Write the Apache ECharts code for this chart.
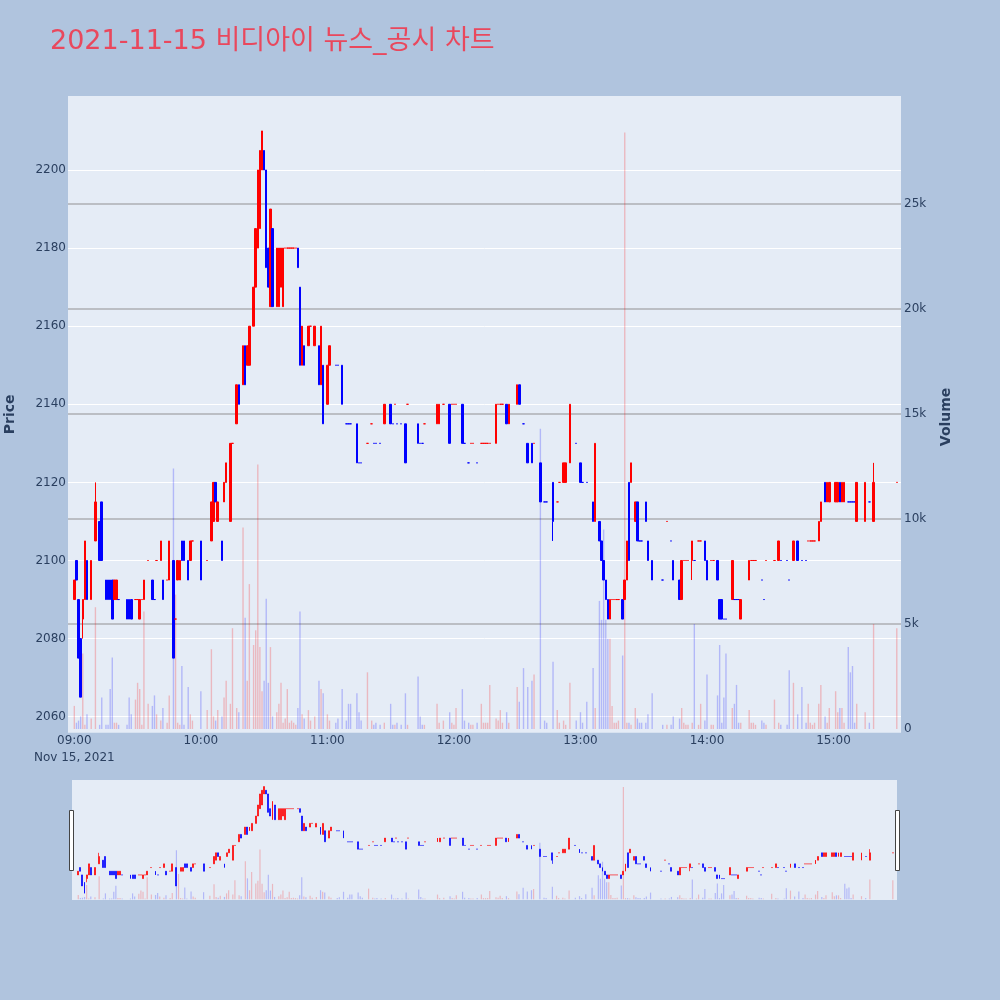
<!DOCTYPE html>
<html>
<head>
<meta charset="utf-8">
<script src="https://cdn.jsdelivr.net/npm/echarts@6/dist/echarts.min.js"></script>
<style>
  html, body { margin: 0; padding: 0; background: #B0C4DE; }
  #chart { width: 1000px; height: 1000px; }
</style>
</head>
<body>
<div id="chart"></div>
<script>
'use strict';

// minutes after 09:00 for every traded minute
const minutes = [
  0,1,2,3,4,5,6,8,10,12, 13,15,16,17,18,19,20,21,25,26, 27,29,30,31,32,33,35,37,38,39, 41,42,44,45,47,48,49,50,51,52, 54,55,56,
  60,63,65,66,67,68,70,71,72,74, 75,77,78,80,81,82,83,85,86,87, 88,89,90,91,92,93,94,96,97,98, 99,100,101,102,103,104,105,106,107,108, 109,111,112,114,116,117,118,
  120,121,124,125,127,129,130,131,134,135, 136,139,141,142,143,145,147,150,151,152, 153,155,157,158,163,164,165,166,172,173, 175,178,179,
  180,181,184,185,187,188,189,191,193,194, 195,196,197,200,201,202,203,205,206,210, 211,213,215,217,218,221,223,224,227,229, 230,232,233,235,238,
  240,241,243,246,247,249,250,251,252,253, 254,255,256,257,258,260,261,262,263,264, 266,267,268,269,271,272,274,279,281,283, 284,287,288,289,290,291,293,294,296,297, 299,
  300,302,303,305,306,307,308,309,312,313, 314,315,316,320,321,322,323,326,327,328, 332,334,335,338,339,341,343,345,347,348, 349,350,351,353,354,356,357,358,
  361,362,363,364,365,367,368,369,370,371, 375,377,379,390
];

const opens = [
  2090,2100,2090,2080,2085,2090,2100,2090,2105,2110, 2115,2095,2095,2095,2095,2090,2090,2090,2090,2090, 2090,2090,2090,2085,2090,2090,2100,2095,2090,2100, 2100,2095,2095,2095,2100,2085,2095,2095,2105,2105, 2100,2100,2105,
  2105,2100,2105,2110,2120,2110,2105,2115,2120,2110, 2130,2135,2145,2145,2155,2150,2150,2160,2170,2180, 2185,2200,2205,2200,2180,2165,2185,2165,2165,2170, 2165,2180,2180,2180,2180,2180,2180,2180,2170,2150, 2155,2155,2160,2155,2155,2145,2150,
  2140,2150,2150,2150,2150,2135,2135,2135,2135,2125, 2125,2130,2135,2130,2130,2130,2135,2140,2135,2140, 2135,2135,2135,2140,2135,2130,2130,2135,2135,2135, 2140,2140,2140,
  2140,2140,2140,2130,2125,2130,2130,2125,2130,2130, 2130,2130,2130,2130,2140,2140,2140,2140,2135,2140, 2145,2135,2130,2130,2130,2125,2115,2115,2120,2115, 2120,2120,2120,2125,2130,
  2125,2120,2120,2115,2110,2110,2105,2100,2095,2090, 2085,2090,2090,2090,2090,2090,2090,2095,2120,2120, 2110,2115,2105,2105,2115,2105,2100,2095,2110,2105, 2100,2095,2090,2100,2100,2100,2100,2100,2105,2105, 2105,
  2100,2100,2100,2100,2090,2090,2085,2085,2090,2090, 2090,2090,2085,2095,2100,2100,2100,2095,2090,2100, 2100,2100,2100,2100,2095,2100,2105,2100,2100,2105, 2105,2105,2105,2105,2110,2120,2115,2115,
  2115,2115,2120,2115,2115,2115,2115,2115,2115,2110, 2110,2115,2110,2120
];

const closes = [
  2095,2095,2075,2065,2090,2105,2090,2100,2115,2100, 2100,2090,2090,2090,2085,2095,2095,2090,2085,2085, 2085,2090,2090,2090,2090,2095,2100,2090,2090,2100, 2105,2090,2095,2105,2075,2085,2100,2100,2100,2100, 2095,2105,2105,
  2095,2100,2115,2120,2115,2115,2100,2120,2125,2130, 2130,2145,2140,2155,2145,2155,2160,2170,2185,2200, 2205,2210,2200,2175,2170,2190,2165,2180,2180,2180, 2180,2180,2180,2180,2180,2180,2180,2175,2150,2160, 2150,2160,2160,2160,2145,2160,2135,
  2150,2155,2150,2150,2140,2135,2135,2135,2125,2125, 2125,2130,2135,2130,2130,2130,2140,2135,2135,2140, 2135,2135,2125,2140,2130,2130,2130,2135,2140,2140, 2140,2130,2140,
  2140,2140,2130,2130,2125,2130,2130,2125,2130,2130, 2130,2130,2130,2140,2140,2140,2140,2135,2140,2145, 2140,2135,2125,2125,2130,2115,2115,2115,2110,2115, 2120,2125,2125,2140,2130,
  2120,2120,2120,2110,2130,2105,2100,2095,2090,2085, 2090,2090,2090,2090,2090,2085,2095,2105,2100,2125, 2115,2105,2105,2105,2110,2100,2095,2095,2110,2105, 2095,2090,2100,2100,2100,2100,2105,2100,2105,2105, 2100,
  2095,2100,2100,2095,2085,2085,2085,2085,2100,2090, 2090,2090,2090,2100,2100,2100,2100,2095,2090,2100, 2100,2105,2100,2100,2095,2105,2100,2100,2100,2105, 2105,2105,2105,2110,2115,2115,2120,2120,
  2120,2120,2115,2120,2120,2115,2115,2115,2115,2120, 2120,2115,2120,2120
];

const lows = [
  2090,2095,2075,2065,2080,2090,2090,2090,2105,2100, 2100,2090,2090,2090,2085,2090,2090,2090,2085,2085, 2085,2090,2090,2085,2090,2090,2100,2090,2090,2100, 2100,2090,2095,2095,2075,2085,2095,2095,2100,2100, 2095,2100,2105,
  2095,2100,2105,2110,2115,2110,2100,2115,2120,2110, 2130,2135,2140,2145,2145,2150,2150,2160,2170,2180, 2185,2200,2200,2175,2170,2165,2165,2165,2165,2170, 2165,2180,2180,2180,2180,2180,2180,2175,2150,2150, 2150,2155,2160,2155,2145,2145,2135,
  2140,2150,2150,2150,2140,2135,2135,2135,2125,2125, 2125,2130,2135,2130,2130,2130,2135,2135,2135,2140, 2135,2135,2125,2140,2130,2130,2130,2135,2135,2135, 2140,2130,2140,
  2140,2140,2130,2130,2125,2130,2130,2125,2130,2130, 2130,2130,2130,2130,2140,2140,2140,2135,2135,2140, 2140,2135,2125,2125,2130,2115,2115,2115,2105,2115, 2120,2120,2120,2125,2130,
  2120,2120,2120,2110,2110,2105,2100,2095,2090,2085, 2085,2090,2090,2090,2090,2085,2090,2095,2100,2120, 2110,2105,2105,2105,2110,2100,2095,2095,2110,2105, 2095,2090,2090,2100,2100,2100,2095,2100,2105,2105, 2100,
  2095,2100,2100,2095,2085,2085,2085,2085,2090,2090, 2090,2090,2085,2095,2100,2100,2100,2095,2090,2100, 2100,2100,2100,2100,2095,2100,2100,2100,2100,2105, 2105,2105,2105,2105,2110,2115,2115,2115,
  2115,2115,2115,2115,2115,2115,2115,2115,2115,2110, 2110,2115,2110,2120
];

const highs = [
  2095,2100,2090,2080,2090,2105,2100,2100,2120,2110, 2115,2095,2095,2095,2095,2095,2095,2090,2090,2090, 2090,2090,2090,2090,2090,2095,2100,2095,2090,2100, 2105,2095,2095,2105,2100,2085,2100,2100,2105,2105, 2100,2105,2105,
  2105,2100,2115,2120,2120,2115,2105,2120,2125,2130, 2130,2145,2145,2155,2155,2155,2160,2170,2185,2200, 2205,2210,2205,2200,2180,2190,2185,2180,2180,2180, 2180,2180,2180,2180,2180,2180,2180,2180,2170,2160, 2155,2160,2160,2160,2155,2160,2150,
  2150,2155,2150,2150,2150,2135,2135,2135,2135,2125, 2125,2130,2135,2130,2130,2130,2140,2140,2135,2140, 2135,2135,2135,2140,2135,2130,2130,2135,2140,2140, 2140,2140,2140,
  2140,2140,2140,2130,2125,2130,2130,2125,2130,2130, 2130,2130,2130,2140,2140,2140,2140,2140,2140,2145, 2145,2135,2130,2130,2130,2125,2115,2115,2120,2115, 2120,2125,2125,2140,2130,
  2125,2120,2120,2115,2130,2110,2105,2100,2095,2090, 2090,2090,2090,2090,2090,2090,2095,2105,2120,2125, 2115,2115,2105,2105,2115,2105,2100,2095,2110,2105, 2100,2095,2100,2100,2100,2100,2105,2100,2105,2105, 2105,
  2100,2100,2100,2100,2090,2090,2085,2085,2100,2090, 2090,2090,2090,2100,2100,2100,2100,2095,2090,2100, 2100,2105,2100,2100,2095,2105,2105,2100,2100,2105, 2105,2105,2105,2110,2115,2120,2120,2120,
  2120,2120,2120,2120,2120,2115,2115,2115,2115,2120, 2120,2115,2125,2120
];

const volumes = [
  1100,300,400,600,3600,200,700,500,5800,200, 1500,200,200,1900,3400,300,300,200,200,1500, 700,1400,2200,1900,200,5600,1200,1100,1600,700, 400,1000,300,1600,12400,6400,300,200,3000,200, 2000,700,400,
  1800,900,3800,600,400,900,600,1500,2300,1200, 4800,1000,800,9600,5300,2300,6900,4000,4700,12600, 3900,1800,2300,6200,2200,3900,600,800,1200,2200, 300,500,1900,300,400,300,200,1000,5600,700, 500,900,400,600,2300,1900,1700,
  700,400,300,500,1900,400,1200,1200,1700,800, 400,2700,400,200,300,200,300,1200,200,200, 300,200,1700,200,2500,600,200,200,1200,300, 400,800,300,
  200,1000,1900,400,300,200,200,300,1200,300, 300,300,2100,500,400,900,300,800,300,2000, 1300,2900,2000,2300,2600,14300,400,300,3200,900, 300,400,200,2200,400,
  800,300,1300,2900,1000,6100,5200,9500,5200,4300, 4300,1100,300,300,400,3500,28400,300,300,200, 1000,500,300,300,300,700,1700,200,200,200, 600,500,1000,300,200,200,300,5000,200,1200, 400,
  2600,200,200,1600,4000,300,1500,3600,1000,1200, 2100,300,300,900,300,300,200,400,300,200, 1400,300,200,200,2800,2200,700,2000,300,1200, 300,200,300,1200,2100,600,300,1000,
  1800,800,1000,1000,300,3900,2700,3000,300,1200, 800,300,5000,4800
];

const priceTicks = [2060, 2080, 2100, 2120, 2140, 2160, 2180, 2200];
const volumeTicks = [0, 5000, 10000, 15000, 20000, 25000];

const UP = '#FF0000';
const DOWN = '#0000FF';
const UP_VOL = 'rgba(255,0,0,0.22)';
const DOWN_VOL = 'rgba(0,0,255,0.22)';
const FONT = "'DejaVu Sans', 'Noto Sans CJK KR', sans-serif";
const TEXT = '#2a3f5f';

// one category per minute, 08:57 .. 15:32
const START = 8 * 60 + 57;
const COUNT = 396;
const pad = n => String(n).padStart(2, '0');
const timeLabels = [];
for (let i = 0; i < COUNT; i++) {
  const t = START + i;
  timeLabels.push(pad(Math.floor(t / 60)) + ':' + pad(t % 60));
}
const labelOf = m => timeLabels[m + 3];

// direction like plotly: flat candles follow the previous close / direction
const dirs = [];
let prevClose = null;
let prevDir = 1;
for (let i = 0; i < closes.length; i++) {
  let d;
  if (closes[i] > opens[i]) d = 1;
  else if (closes[i] < opens[i]) d = -1;
  else if (prevClose !== null && closes[i] > prevClose) d = 1;
  else if (prevClose !== null && closes[i] < prevClose) d = -1;
  else d = prevDir;
  dirs.push(d);
  prevClose = closes[i];
  prevDir = d;
}

const candleData = minutes.map((m, i) => {
  const c = dirs[i] > 0 ? UP : DOWN;
  return {
    value: [labelOf(m), opens[i], closes[i], lows[i], highs[i]],
    itemStyle: { color: c, color0: c, borderColor: c, borderColor0: c, borderColorDoji: c }
  };
});

const volumeData = minutes.map((m, i) => ({
  value: [labelOf(m), volumes[i]],
  itemStyle: { color: dirs[i] > 0 ? UP_VOL : DOWN_VOL }
}));

const gridLines = (ticks, color, width) => ({
  silent: true,
  symbol: ['none', 'none'],
  z: 1,
  label: { show: false },
  lineStyle: { color, width, type: 'solid' },
  emphasis: { disabled: true },
  data: ticks.map(v => ({ yAxis: v }))
});

const hiddenX = gridIndex => ({
  type: 'category', gridIndex, data: timeLabels, boundaryGap: false, show: false
});

const myChart = echarts.init(document.getElementById('chart'));

const option = {
  animation: false,
  backgroundColor: '#B0C4DE',
  title: {
    text: '2021-11-15 비디아이 뉴스_공시 차트',
    left: 50,
    top: 28,
    padding: 0,
    textStyle: { color: '#E9485D', fontSize: 27, fontWeight: 'normal', fontFamily: FONT }
  },
  grid: [
    { left: 68, right: 99, top: 96, bottom: 267.3, show: true, backgroundColor: '#E5ECF6', borderWidth: 0, outerBoundsMode: 'none', containLabel: false },
    { left: 68, right: 99, top: 101.1, bottom: 267.3, outerBoundsMode: 'none', containLabel: false },
    { left: 72, right: 103, top: 780, bottom: 100, show: true, backgroundColor: '#E5ECF6', borderWidth: 0, outerBoundsMode: 'none', containLabel: false },
    { left: 72, right: 103, top: 781, bottom: 100, outerBoundsMode: 'none', containLabel: false }
  ],
  xAxis: [
    {
      type: 'category',
      gridIndex: 0,
      data: timeLabels,
      boundaryGap: false,
      axisLine: { show: false },
      axisTick: { show: false },
      splitLine: { show: false },
      axisLabel: {
        interval: (i, v) => v.endsWith(':00'),
        formatter: v => v === '09:00' ? '09:00\nNov 15, 2021' : v,
        color: TEXT,
        fontSize: 12,
        fontFamily: FONT,
        lineHeight: 17,
        margin: 0
      }
    },
    hiddenX(1),
    hiddenX(2),
    hiddenX(3)
  ],
  yAxis: [
    {
      type: 'value',
      gridIndex: 0,
      position: 'left',
      min: 2055.9,
      max: 2218.95,
      axisLine: { show: false },
      axisTick: { show: false },
      splitLine: { show: false },
      axisLabel: {
        customValues: priceTicks,
        formatter: v => String(v),
        color: TEXT, fontSize: 12, fontFamily: FONT, margin: 2
      },
      name: 'Price',
      nameLocation: 'middle',
      nameRotate: 90,
      nameGap: 51,
      nameTextStyle: { color: TEXT, fontSize: 14, fontWeight: 'bold', fontFamily: FONT }
    },
    {
      type: 'value',
      gridIndex: 1,
      position: 'right',
      min: -176,
      max: 29900,
      axisLine: { show: false },
      axisTick: { show: false },
      splitLine: { show: false },
      axisLabel: {
        customValues: volumeTicks,
        formatter: v => v === 0 ? '0' : (v / 1000) + 'k',
        color: TEXT, fontSize: 12, fontFamily: FONT, margin: 3
      },
      name: 'Volume',
      nameLocation: 'middle',
      nameRotate: 90,
      nameGap: 38,
      nameTextStyle: { color: TEXT, fontSize: 14, fontWeight: 'bold', fontFamily: FONT }
    },
    { type: 'value', gridIndex: 2, min: 2055.9, max: 2218.95, show: false, splitLine: { show: false } },
    { type: 'value', gridIndex: 3, min: -176, max: 29900, show: false, splitLine: { show: false } }
  ],
  series: [
    {
      type: 'bar',
      name: 'volume',
      xAxisIndex: 1,
      yAxisIndex: 1,
      barWidth: 1.4,
      z: 2,
      encode: { x: 0, y: 1 },
      data: volumeData,
      markLine: gridLines(volumeTicks.slice(1), '#ADAFB3', 1.6)
    },
    {
      type: 'candlestick',
      name: 'price',
      xAxisIndex: 0,
      yAxisIndex: 0,
      barWidth: 2,
      z: 3,
      encode: { x: 0, y: [1, 2, 3, 4] },
      itemStyle: { borderWidth: 1 },
      data: candleData,
      markLine: gridLines(priceTicks, '#FFFFFF', 1)
    },
    {
      type: 'bar',
      xAxisIndex: 3,
      yAxisIndex: 3,
      barWidth: 1.2,
      z: 2,
      encode: { x: 0, y: 1 },
      data: volumeData
    },
    {
      type: 'candlestick',
      xAxisIndex: 2,
      yAxisIndex: 2,
      barWidth: 1.4,
      z: 3,
      encode: { x: 0, y: [1, 2, 3, 4] },
      itemStyle: { borderWidth: 0.7 },
      data: candleData
    }
  ],
  graphic: [
    { type: 'rect', shape: { x: 69.5, y: 810.5, width: 4, height: 60 },
      style: { fill: '#FFFFFF', stroke: '#444444', lineWidth: 1 }, z: 10 },
    { type: 'rect', shape: { x: 895.5, y: 810.5, width: 4, height: 60 },
      style: { fill: '#FFFFFF', stroke: '#444444', lineWidth: 1 }, z: 10 }
  ]
};

myChart.setOption(option);
</script>
</body>
</html>
